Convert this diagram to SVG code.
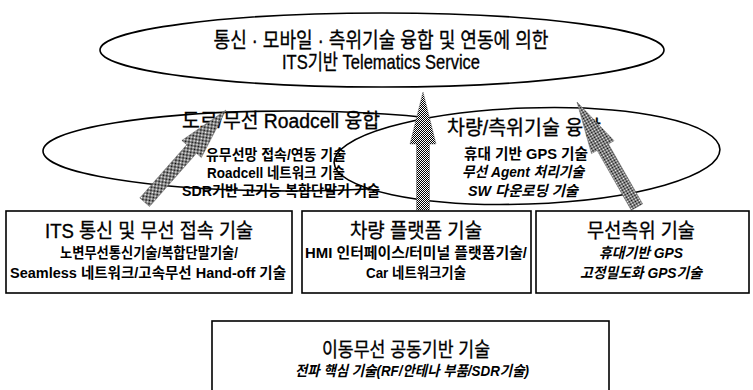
<svg xmlns="http://www.w3.org/2000/svg" width="753" height="390" viewBox="0 0 753 390">
<defs>
<pattern id="dither" width="2" height="2" patternUnits="userSpaceOnUse">
<rect width="2" height="2" fill="#fff"/>
<rect width="1" height="1" fill="#000"/>
<rect x="1" y="1" width="1" height="1" fill="#000"/>
</pattern>
</defs>
<style>
.shape{fill:#fff;stroke:#000;stroke-width:1.6}
.t{font-family:"Liberation Sans","Noto Sans CJK KR",sans-serif;fill:#000;text-anchor:middle}
.big{font-size:20px;stroke:#000;stroke-width:0.35}
.top{font-size:21px}
.sub{font-size:14.5px;font-weight:bold}
.it{font-style:italic}
.arrow{fill:url(#dither);stroke:#555;stroke-width:0.4}
</style>
<rect width="753" height="390" fill="#fff"/>

<g id="top-ellipse">
<ellipse class="shape" cx="382" cy="50" rx="282" ry="37"/>
<text class="t big top" x="381" y="47" textLength="335" lengthAdjust="spacingAndGlyphs">통신 · 모바일 · 측위기술 융합 및 연동에 의한</text>
<text class="t big top" x="381" y="69" textLength="198" lengthAdjust="spacingAndGlyphs">ITS기반 Telematics Service</text>
</g>

<g id="left-ellipse">
<ellipse class="shape" cx="290" cy="151" rx="247" ry="40"/>
</g>
<g id="right-ellipse">
<ellipse class="shape" cx="527" cy="156" rx="193" ry="48" transform="rotate(-2 527 156)"/>
</g>
<g id="left-ellipse-text">
<text class="t big" x="281" y="128" textLength="198" lengthAdjust="spacingAndGlyphs">도로/무선 Roadcell 융합</text>
<text class="t sub" x="276" y="160" textLength="140" lengthAdjust="spacingAndGlyphs">유무선망 접속/연동 기술</text>
<text class="t sub" x="276" y="178" textLength="138" lengthAdjust="spacingAndGlyphs">Roadcell 네트워크 기술</text>
<text class="t sub" x="281" y="196" textLength="198" lengthAdjust="spacingAndGlyphs">SDR기반 고기능 복합단말기 기술</text>
</g>
<g id="right-ellipse-text">
<text class="t big" x="524" y="135" textLength="154" lengthAdjust="spacingAndGlyphs">차량/측위기술 융합</text>
<text class="t sub" x="526" y="159" textLength="124" lengthAdjust="spacingAndGlyphs">휴대 기반 GPS 기술</text>
<text class="t sub it" x="523" y="177" textLength="122" lengthAdjust="spacingAndGlyphs">무선 Agent 처리기술</text>
<text class="t sub it" x="523" y="196" textLength="110" lengthAdjust="spacingAndGlyphs">SW 다운로딩 기술</text>
</g>

<g id="connectors">
<path class="arrow" transform="translate(226,110) rotate(41.4)" d="M0,0 L13,52 L6.5,52 L6.5,123 L-6.5,123 L-6.5,52 L-13,52 Z"/>
<path class="arrow" transform="translate(423,92)" d="M0,0 L13,52 L6.5,52 L6.5,118 L-6.5,118 L-6.5,52 L-13,52 Z"/>
<path class="arrow" transform="translate(577,102) rotate(-29.7)" d="M0,0 L13,52 L6.5,52 L6.5,121 L-6.5,121 L-6.5,52 L-13,52 Z"/>
</g>

<g id="box-its">
<rect class="shape" x="6" y="211" width="286" height="82"/>
<text class="t big" x="149" y="238" textLength="208" lengthAdjust="spacingAndGlyphs">ITS 통신 및 무선 접속 기술</text>
<text class="t sub" x="149" y="258" textLength="178" lengthAdjust="spacingAndGlyphs">노변무선통신기술/복합단말기술/</text>
<text class="t sub" x="148" y="278" textLength="276" lengthAdjust="spacingAndGlyphs">Seamless 네트워크/고속무선 Hand-off 기술</text>
</g>

<g id="box-vehicle">
<rect class="shape" x="302" y="211" width="229" height="82"/>
<text class="t big" x="416" y="238" textLength="132" lengthAdjust="spacingAndGlyphs">차량 플랫폼 기술</text>
<text class="t sub" x="416" y="258" textLength="222" lengthAdjust="spacingAndGlyphs">HMI 인터페이스/터미널 플랫폼기술/</text>
<text class="t sub" x="416" y="278" textLength="100" lengthAdjust="spacingAndGlyphs">Car 네트워크기술</text>
</g>

<g id="box-positioning">
<rect class="shape" x="536" y="211" width="213" height="82"/>
<text class="t big" x="641" y="238" textLength="108" lengthAdjust="spacingAndGlyphs">무선측위 기술</text>
<text class="t sub it" x="641" y="258" textLength="84" lengthAdjust="spacingAndGlyphs">휴대기반 GPS</text>
<text class="t sub it" x="641" y="278" textLength="122" lengthAdjust="spacingAndGlyphs">고정밀도화 GPS기술</text>
</g>

<g id="box-common">
<rect class="shape" x="212" y="321" width="397" height="80"/>
<text class="t big" x="406" y="357" textLength="168" lengthAdjust="spacingAndGlyphs">이동무선 공동기반 기술</text>
<text class="t sub it" x="412" y="376" textLength="234" lengthAdjust="spacingAndGlyphs">전파 핵심 기술(RF/안테나 부품/SDR기술)</text>
</g>
</svg>
